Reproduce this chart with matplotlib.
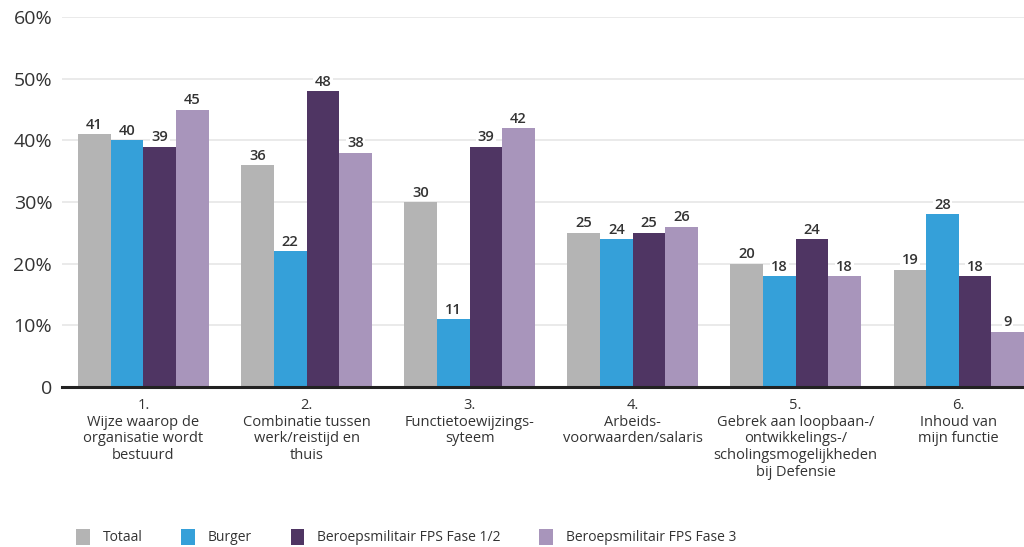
import matplotlib
matplotlib.use("Agg")
import matplotlib.pyplot as plt
import numpy as np
from matplotlib.patches import Patch

categories = [
    "1.\nWijze waarop de\norganisatie wordt\nbestuurd",
    "2.\nCombinatie tussen\nwerk/reistijd en\nthuis",
    "3.\nFunctietoewijzings-\nsyteem",
    "4.\nArbeids-\nvoorwaarden/salaris",
    "5.\nGebrek aan loopbaan-/\nontwikkelings-/\nscholingsmogelijkheden\nbij Defensie",
    "6.\nInhoud van\nmijn functie",
]
series_names = ["Totaal", "Burger", "Beroepsmilitair FPS Fase 1/2", "Beroepsmilitair FPS Fase 3"]
totaal = [41, 36, 30, 25, 20, 19]
burger = [40, 22, 11, 24, 18, 28]
fase12 = [39, 48, 39, 25, 24, 18]
fase3 = [45, 38, 42, 26, 18, 9]
yticks = [0, 10, 20, 30, 40, 50, 60]
yticklabels = ["0", "10%", "20%", "30%", "40%", "50%", "60%"]

colors = ["#b4b4b4", "#35a0d9", "#4f3563", "#a895bb"]

plt.rcParams['font.family'] = ['Open Sans', 'DejaVu Sans']

fig = plt.figure(figsize=(10.24, 5.47), dpi=100)
ax = fig.add_axes([0.0605, 0.2925, 0.9395, 0.676])

x = np.arange(len(categories))
w = 0.2
all_series = [totaal, burger, fase12, fase3]
for i, (vals, c) in enumerate(zip(all_series, colors)):
    pos = x + (i - 1.5) * w
    ax.bar(pos, vals, width=w, color=c, zorder=2)
    for p, v in zip(pos, vals):
        ax.text(p, v + 0.4, str(v), ha="center", va="bottom", fontsize=10.5,
                fontweight="semibold", color="#333333", zorder=3,
                bbox=dict(facecolor="white", edgecolor="none", pad=1.0))

ax.set_xlim(-0.5, 5.4)
ax.set_ylim(0, 60)
ax.set_yticks(yticks)
ax.set_yticklabels(yticklabels, fontsize=14, color="#333333", fontweight="medium")
ax.set_xticks(x)
ax.set_xticklabels(categories, fontsize=10.5, color="#333333", linespacing=1.15,
                   fontweight="medium")
ax.tick_params(axis="both", length=0)
ax.tick_params(axis="y", pad=7)
ax.tick_params(axis="x", pad=8)
ax.grid(axis="y", color="#e6e6e6", linewidth=1.2, zorder=0)
for s in ["top", "right", "left"]:
    ax.spines[s].set_visible(False)
ax.spines["bottom"].set_color("#222222")
ax.spines["bottom"].set_linewidth(2.2)
ax.spines["bottom"].set_zorder(4)

handles = [Patch(facecolor=c, edgecolor="none") for c in colors]
fig.legend(handles, series_names, loc="lower left", bbox_to_anchor=(0.062, -0.02),
           ncol=4, frameon=False, fontsize=10, handlelength=1.0, handleheight=1.4,
           columnspacing=2.8, handletextpad=0.9, labelcolor="#333333")

fig.savefig("out.png", dpi=100)
